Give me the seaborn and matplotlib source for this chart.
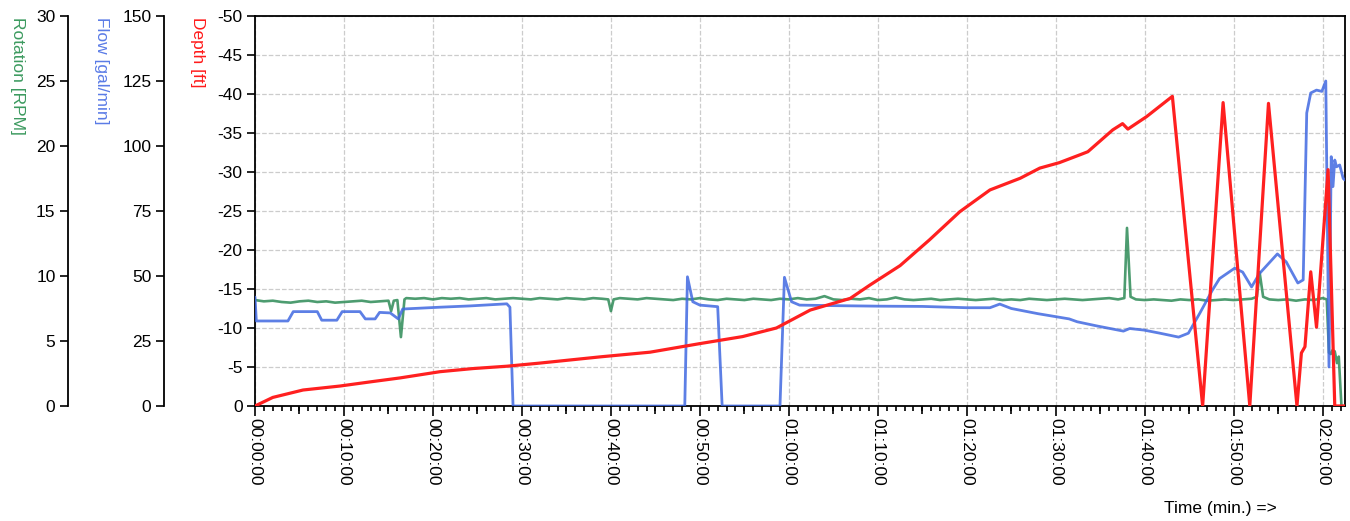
import matplotlib
matplotlib.use("Agg")
import matplotlib.pyplot as plt
import matplotlib.ticker as mticker
import seaborn as sns

# Rotation [RPM] vs time (minutes)
rot_time = (list(range(0, 16)) + [15.3, 15.6, 16.0, 16.4, 16.8]
            + list(range(17, 40)) + [39.7, 40.0, 40.3]
            + list(range(41, 98)) + [97.7, 98.0, 98.4]
            + list(range(99, 113)) + [112.6, 112.9, 113.3]
            + list(range(114, 121))
            + [120.45, 120.7, 120.9, 121.1, 121.35, 121.6, 121.8, 122.1, 122.5])
rot_rpm = ([8.15, 8.05, 8.1, 8.0, 7.95, 8.05, 8.1, 8.0, 8.05, 7.95, 8.0, 8.05, 8.1, 8.0, 8.05, 8.1]
           + [7.3, 8.1, 8.15, 5.3, 8.2]
           + [8.3, 8.25, 8.3, 8.2, 8.3, 8.25, 8.3, 8.2, 8.25, 8.3, 8.2, 8.25, 8.3, 8.25, 8.2,
              8.3, 8.25, 8.2, 8.3, 8.25, 8.2, 8.3, 8.25]
           + [8.2, 7.3, 8.2]
           + [8.3, 8.25, 8.2, 8.3, 8.25, 8.2, 8.15, 8.25, 8.2, 8.3,
              8.2, 8.15, 8.25, 8.2, 8.15, 8.25, 8.2, 8.15, 8.25, 8.2,
              8.3, 8.2, 8.25, 8.45, 8.2, 8.15, 8.25, 8.2, 8.3, 8.15,
              8.2, 8.35, 8.2, 8.15, 8.2, 8.25, 8.15, 8.2, 8.25, 8.2,
              8.15, 8.2, 8.25, 8.15, 8.2, 8.15, 8.25, 8.2, 8.15, 8.2,
              8.25, 8.2, 8.15, 8.2, 8.25, 8.3, 8.2]
           + [8.3, 13.7, 8.4]
           + [8.2, 8.15, 8.2, 8.15, 8.1, 8.2, 8.15, 8.2, 8.1, 8.15, 8.2, 8.15, 8.2, 8.25]
           + [8.4, 10.3, 8.4]
           + [8.2, 8.15, 8.2, 8.1, 8.2, 8.15, 8.3]
           + [8.2, 4.1, 4.0, 4.3, 4.2, 3.3, 3.8, 0.0, 0.0])

# Flow [gal/min]
flow_time = [0, 0.15, 3.7, 4.3, 7.0, 7.5, 9.2, 9.8, 11.8, 12.4,
             13.5, 14.0, 15.2, 16.1, 16.6, 20.8, 24.2, 28.3, 28.65, 29.0,
             48.3, 48.6, 49.2, 50.0, 52.0, 52.5, 59.0, 59.5, 60.3, 61.2,
             65, 70, 75, 80, 82.6, 83.7, 85, 88, 91.5, 92.4,
             94.6, 97.6, 98.3, 99.9, 101.7, 103.8, 104.9, 106.2, 107.6, 108.4,
             110.1, 111.0, 112.0, 112.9, 114.9, 115.9, 117.2, 117.8, 118.2, 118.65,
             119.3, 119.9, 120.34, 120.7, 120.95, 121.15, 121.35, 121.55, 121.9, 122.3,
             122.5]
flow_gpm = [41.9, 32.7, 32.7, 36.3, 36.3, 33.0, 33.0, 36.3, 36.3, 33.5,
            33.5, 36.0, 35.8, 33.5, 37.3, 38.0, 38.5, 39.3, 38.0, 0,
            0, 49.7, 40.1, 38.8, 38.2, 0, 0, 49.5, 40.1, 38.8,
            38.6, 38.4, 38.3, 37.8, 37.8, 39.2, 37.5, 35.5, 33.5, 32.4,
            30.8, 28.8, 29.8, 29.2, 28.0, 26.5, 28.0, 35.8, 44.6, 49.0,
            53.0, 51.5, 45.8, 51.0, 58.5, 55.4, 47.3, 48.5, 112.7, 120.4,
            121.5, 121.0, 125.0, 15.0, 95.9, 84.4, 94.6, 92.0, 92.7, 87.5,
            86.9]

# Depth [ft]
depth_time = [0, 2, 5.4, 9.55, 13, 16.3, 20.8, 24.5, 28.3, 32.0,
              38.8, 44.4, 50.0, 54.8, 58.6, 62.4, 66.9, 69.1, 72.5, 75.8,
              79.2, 82.6, 86.0, 88.2, 90.4, 92.7, 93.6, 96.4, 97.5, 98.1,
              100.2, 103.1, 106.5, 108.8, 111.8, 113.9, 117.1, 117.6, 118.0, 118.65,
              119.3, 120.6, 121.35, 122.5]
depth_ft = [0, -1.1, -2.05, -2.56, -3.1, -3.6, -4.4, -4.8, -5.1, -5.5,
            -6.3, -6.9, -8.0, -8.9, -10.0, -12.3, -13.8, -15.5, -18.0, -21.3,
            -24.9, -27.7, -29.2, -30.5, -31.2, -32.2, -32.6, -35.4, -36.2, -35.5,
            -37.1, -39.7, 0, -38.9, 0, -38.8, 0, -6.8, -7.6, -17.2,
            -10.1, -30.3, 0, 0]

sns.set_style("white")
plt.rcParams['font.family'] = ['Liberation Sans', 'DejaVu Sans']
plt.rcParams['axes.unicode_minus'] = False
plt.rcParams['font.size'] = 12.5
plt.rcParams['text.color'] = 'black'
plt.rcParams['xtick.color'] = 'black'
plt.rcParams['ytick.color'] = 'black'
plt.rcParams['xtick.labelcolor'] = 'black'
plt.rcParams['ytick.labelcolor'] = 'black'

fig = plt.figure(figsize=(13.5, 5.21), dpi=100)
ax = fig.add_axes([255/1350, 1-406/521, 1090/1350, 390/521])
ax_rot = ax.twinx()
ax_flow = ax.twinx()
ax_red = ax.twinx()

# depth axis (main, left)
ax.set_xlim(0, 122.5)
ax.set_ylim(0, -50)
ax.yaxis.set_major_locator(mticker.MultipleLocator(5))
ax.xaxis.set_major_locator(mticker.MultipleLocator(10))
ax.xaxis.set_minor_locator(mticker.MultipleLocator(1))
ax.xaxis.set_major_formatter(mticker.FuncFormatter(
    lambda m, p: f"{int(m // 60):02d}:{int(m % 60):02d}:00"))
ax.grid(True, which='major', color='#cccccc', linestyle='--', linewidth=0.9)
for s in ax.spines.values():
    s.set_color('black')
    s.set_linewidth(1.3)
ax.tick_params(axis='y', which='major', direction='out', length=6, width=1.2,
               color='black', labelcolor='black', labelsize=12.5, pad=3, left=True)
ax.tick_params(axis='x', which='major', direction='out', length=7, width=1.2,
               color='black', labelcolor='black', labelsize=12.5, labelrotation=270,
               bottom=True, pad=2)
ax.tick_params(axis='x', which='minor', direction='out', length=3.5, width=1.2,
               color='black', bottom=True)
for lab in ax.get_xticklabels():
    lab.set_va('top')

sec = ax.secondary_xaxis('bottom')
sec.set_xticks([5, 15, 25, 35, 45, 55, 65, 75, 85, 95, 105, 115])
sec.tick_params(length=6, width=1.2, labelbottom=False, color='black', direction='out')
sec.spines['bottom'].set_visible(False)

# offset axes for flow and rotation
for a, off, lim, step in [(ax_flow, -91/1090, (0, 150), 25), (ax_rot, -187/1090, (0, 30), 5)]:
    a.set_ylim(*lim)
    a.yaxis.set_major_locator(mticker.MultipleLocator(step))
    a.spines['left'].set_position(('axes', off))
    a.spines['left'].set_visible(True)
    a.spines['left'].set_color('black')
    a.spines['left'].set_linewidth(1.3)
    for k in ['right', 'top', 'bottom']:
        a.spines[k].set_visible(False)
    a.yaxis.set_ticks_position('left')
    a.tick_params(axis='y', direction='out', length=6, width=1.2, color='black',
                  labelcolor='black', labelsize=12.5, pad=3)

ax_red.set_ylim(0, -50)
ax_red.axis('off')

sns.lineplot(x=rot_time, y=rot_rpm, ax=ax_rot, color='#2e8b57', linewidth=1.9,
             alpha=0.85, estimator=None)
sns.lineplot(x=flow_time, y=flow_gpm, ax=ax_flow, color='#4169e1', linewidth=2.0,
             alpha=0.85, estimator=None)
sns.lineplot(x=depth_time, y=depth_ft, ax=ax_red, color='#ff2020', linewidth=2.3,
             estimator=None)
for a in (ax_rot, ax_flow, ax_red):
    a.set_xlim(0, 122.5)
    a.set_ylabel('')
ax.set_xlabel('')

fig.text(17/1350, 1-17/521, 'Rotation [RPM]', rotation=270, ha='center', va='top',
         color='#3c9a5f', fontsize=12.5)
fig.text(101/1350, 1-17/521, 'Flow [gal/min]', rotation=270, ha='center', va='top',
         color='#5a7be6', fontsize=12.5)
fig.text(198/1350, 1-17/521, 'Depth [ft]', rotation=270, ha='center', va='top',
         color='#ff1a1a', fontsize=12.5)
fig.text(1220/1350, 1-508/521, 'Time (min.) =>', ha='center', va='center', fontsize=12.5)

fig.savefig('out.png', dpi=100)
